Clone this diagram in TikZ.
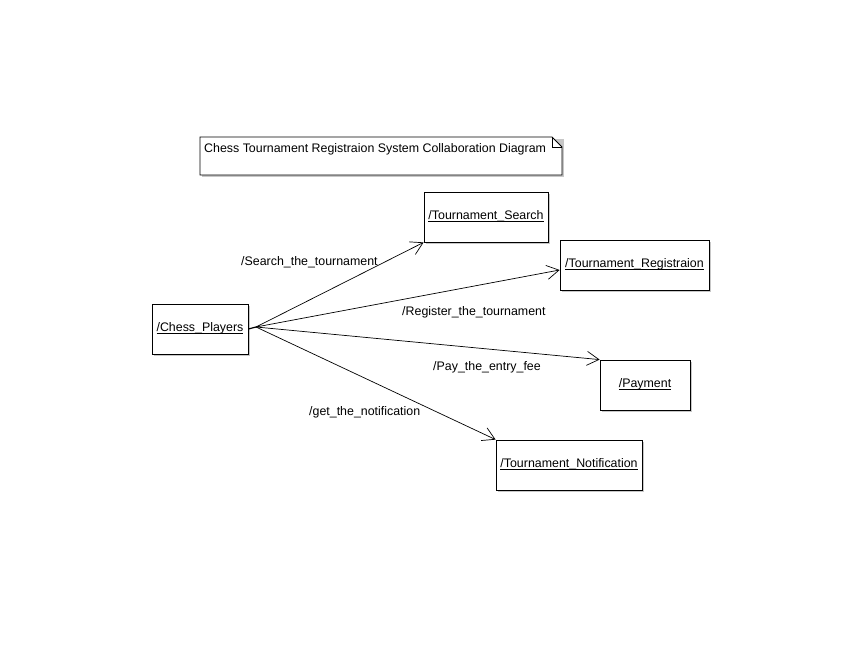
\documentclass[tikz,border=0pt]{standalone}
\usepackage{fontspec}
\setmainfont{Liberation Sans}
\usetikzlibrary{arrows.meta,calc}
\newcommand\objul[1]{\setbox0\hbox{#1}\rlap{\rule[-1.8pt]{\wd0}{0.7pt}}\box0}
\begin{document}
\begin{tikzpicture}[x=1pt,y=-1pt,
  obj/.style={draw=black,fill=white,line width=0.8pt,minimum height=50pt,inner sep=0pt},
  msg/.style={-{Straight Barb[length=12pt,width=14pt,line width=0.7pt]},line width=0.7pt},
  lbl/.style={font=\fontsize{12.4}{14}\selectfont,inner sep=0pt},
  otxt/.style={font=\fontsize{12.4}{14}\selectfont,inner sep=0pt}]
\useasboundingbox (0,0) rectangle (861,658);
% shadows
\fill[black!22] (202,139) rectangle (564,177);
\foreach \x/\y/\w/\h in {152/304/96/50, 424/192/124/50, 560/240/149/50, 600/360/90/50, 496/440/146/50}
  \fill[black!22] (\x+2,\y+2) rectangle (\x+\w+2,\y+\h+2);
% note
\draw[fill=white,line width=0.8pt] (200,137) -- (552,137) -- (562,147) -- (562,175) -- (200,175) -- cycle;
\draw[line width=0.8pt] (552,137) -- (552,147) -- (562,147);
\node[lbl,anchor=west] (note) at (204,149.5) {Chess Tournament Registraion System Collaboration Diagram};
% objects
\node[obj,minimum width=96pt] (cp) at (200,329) {};
\node[obj,minimum width=124pt] (ts) at (486,217) {};
\node[obj,minimum width=149pt] (tr) at (634.5,265) {};
\node[obj,minimum width=90pt] (pay) at (645,385) {};
\node[obj,minimum width=146pt] (tn) at (569,465) {};
\node[otxt] (cpt) at (200,328.5) {\objul{/Chess\_Players}};
\node[otxt] (tst) at (486,216.5) {\objul{/Tournament\_Search}};
\node[otxt] (trt) at (634.5,264.5) {\objul{/Tournament\_Registraion}};
\node[otxt] (payt) at (645,384.5) {\objul{/Payment}};
\node[otxt] (tnt) at (569,464.5) {\objul{/Tournament\_Notification}};
% connectors
\coordinate (src) at (256,327);
\draw[line width=1.2pt] (cp.east) -- (src);
\draw[msg] (src) -- (ts.south west);
\draw[msg] (src) -- ($(tr.west)+(0,5)$);
\draw[msg] (src) -- (pay.north west);
\draw[msg] (src) -- (tn.north west);
% labels
\node[lbl,anchor=west] (l1) at (241,262.5) {/Search\_the\_tournament};
\node[lbl,anchor=west] (l2) at (402,312.5) {/Register\_the\_tournament};
\node[lbl,anchor=west] (l3) at (433,367.5) {/Pay\_the\_entry\_fee};
\node[lbl,anchor=west] (l4) at (309,412.5) {/get\_the\_notification};
\end{tikzpicture}
\end{document}
